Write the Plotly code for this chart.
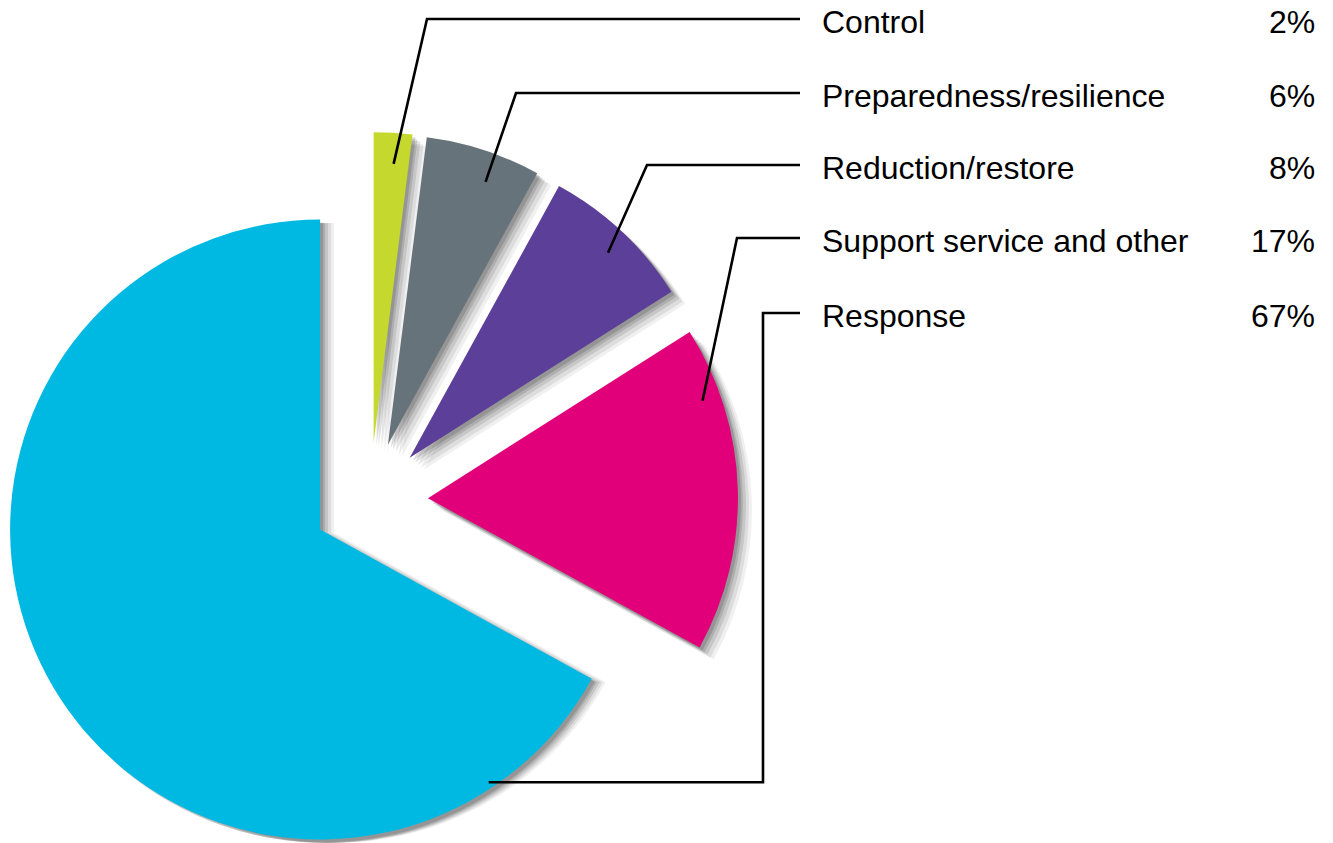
import numpy as np
import plotly.graph_objects as go

# ---------------- data ----------------
categories = ["Control", "Preparedness/resilience", "Reduction/restore",
              "Support service and other", "Response"]
shares = [2, 6, 8, 17, 67]
pct_labels = ["2%", "6%", "8%", "17%", "67%"]
colors = ["#C4D82E", "#67737A", "#5B3F98", "#E2007A", "#00B9E3"]

# ---------------- layout / style parameters ----------------
W, H = 1333, 843
R = 310                 # pie radius in px
CX, CY = 370, 500       # un-exploded pie centre in px (from top-left)
EXPLODE = 0.187         # radial explode of every slice, fraction of R
FONT = "Liberation Sans, Arial, Helvetica, sans-serif"
TRANSPARENT = "rgba(0,0,0,0)"
SHADOWS = [(14, 12, 0.06), (11, 10, 0.08), (8, 7, 0.10), (5, 5, 0.12), (3, 3, 0.14)]  # dx, dy, alpha

# leader-line styling
ROW_Y = [19, 93, 165, 238, 313]          # y of label rows (px)
CORNER_X = [427, 516, 647, 737, 763]     # elbow x of leader lines (px)
LINE_END_X = 800
LABEL_X = 820
PCT_X = 1317
ANCHOR_SPAN = [0.57, 0.61, 0.53, 0.21, 0.114]   # position inside slice span
ANCHOR_RAD = [0.90, 0.905, 0.92, 0.94, 0.98]    # radius fraction

# ---------------- geometry derived from data ----------------
vals = np.array(shares, dtype=float)
frac = vals / vals.sum()
ends = np.cumsum(frac) * 360.0
starts = ends - frac * 360.0
mids = (starts + ends) / 2.0
n = len(vals)


def unit(deg):
    a = np.radians(deg)
    return np.sin(a), -np.cos(a)   # clockwise from 12 o'clock, screen y down


tips = []
for m in mids:
    ux, uy = unit(m)
    tips.append((CX + EXPLODE * R * ux, CY + EXPLODE * R * uy))


def domain(cx, cy):
    cx = min(max(cx, R), W - R)
    cy = min(max(cy, R), H - R)
    return dict(x=[(cx - R) / W, (cx + R) / W],
                y=[1 - (cy + R) / H, 1 - (cy - R) / H])


def slice_trace(i, cx, cy, color, hover=True):
    cols = [TRANSPARENT] * n
    cols[i] = color
    return go.Pie(
        values=shares, labels=categories, sort=False, direction="clockwise",
        rotation=0, textinfo="none", showlegend=False,
        hoverinfo="label+percent" if hover else "skip",
        marker=dict(colors=cols, line=dict(width=0)),
        domain=domain(cx, cy),
    )


fig = go.Figure()
# soft drop shadows
for dx, dy, a in SHADOWS:
    for i in range(n):
        tx, ty = tips[i]
        fig.add_trace(slice_trace(i, tx + dx, ty + dy, f"rgba(0,0,0,{a})", hover=False))
# coloured slices
for i in range(n):
    tx, ty = tips[i]
    fig.add_trace(slice_trace(i, tx, ty, colors[i]))


def px2paper(x, y):
    return x / W, 1 - y / H


shapes = []
annotations = []
for i in range(n):
    ang = starts[i] + ANCHOR_SPAN[i] * (ends[i] - starts[i])
    ux, uy = unit(ang)
    sx = tips[i][0] + ANCHOR_RAD[i] * R * ux
    sy = tips[i][1] + ANCHOR_RAD[i] * R * uy
    if i == n - 1:
        pts = [(sx, sy), (CORNER_X[i], sy), (CORNER_X[i], ROW_Y[i]), (LINE_END_X, ROW_Y[i])]
    else:
        pts = [(sx, sy), (CORNER_X[i], ROW_Y[i]), (LINE_END_X, ROW_Y[i])]
    path = ""
    for k, (x, y) in enumerate(pts):
        px, py = px2paper(x, y)
        path += ("M" if k == 0 else " L") + f" {px:.5f},{py:.5f}"
    shapes.append(dict(type="path", path=path, xref="paper", yref="paper",
                       line=dict(color="black", width=2.6), layer="above"))
    ly = 1 - (ROW_Y[i] + 3) / H
    annotations.append(dict(text=categories[i], x=LABEL_X / W, y=ly, xref="paper", yref="paper",
                            xanchor="left", yanchor="middle", showarrow=False,
                            font=dict(family=FONT, size=32, color="black")))
    annotations.append(dict(text=pct_labels[i], x=PCT_X / W, y=ly, xref="paper", yref="paper",
                            xanchor="right", yanchor="middle", showarrow=False,
                            font=dict(family=FONT, size=32, color="black")))

fig.update_layout(
    width=W, height=H, autosize=False,
    margin=dict(l=0, r=0, t=0, b=0),
    paper_bgcolor="white", plot_bgcolor="white",
    shapes=shapes, annotations=annotations,
    font=dict(family=FONT),
)

fig.write_html("out.html", config={"displayModeBar": False},
               post_script="document.body.style.margin='0';document.body.style.overflow='hidden';")
